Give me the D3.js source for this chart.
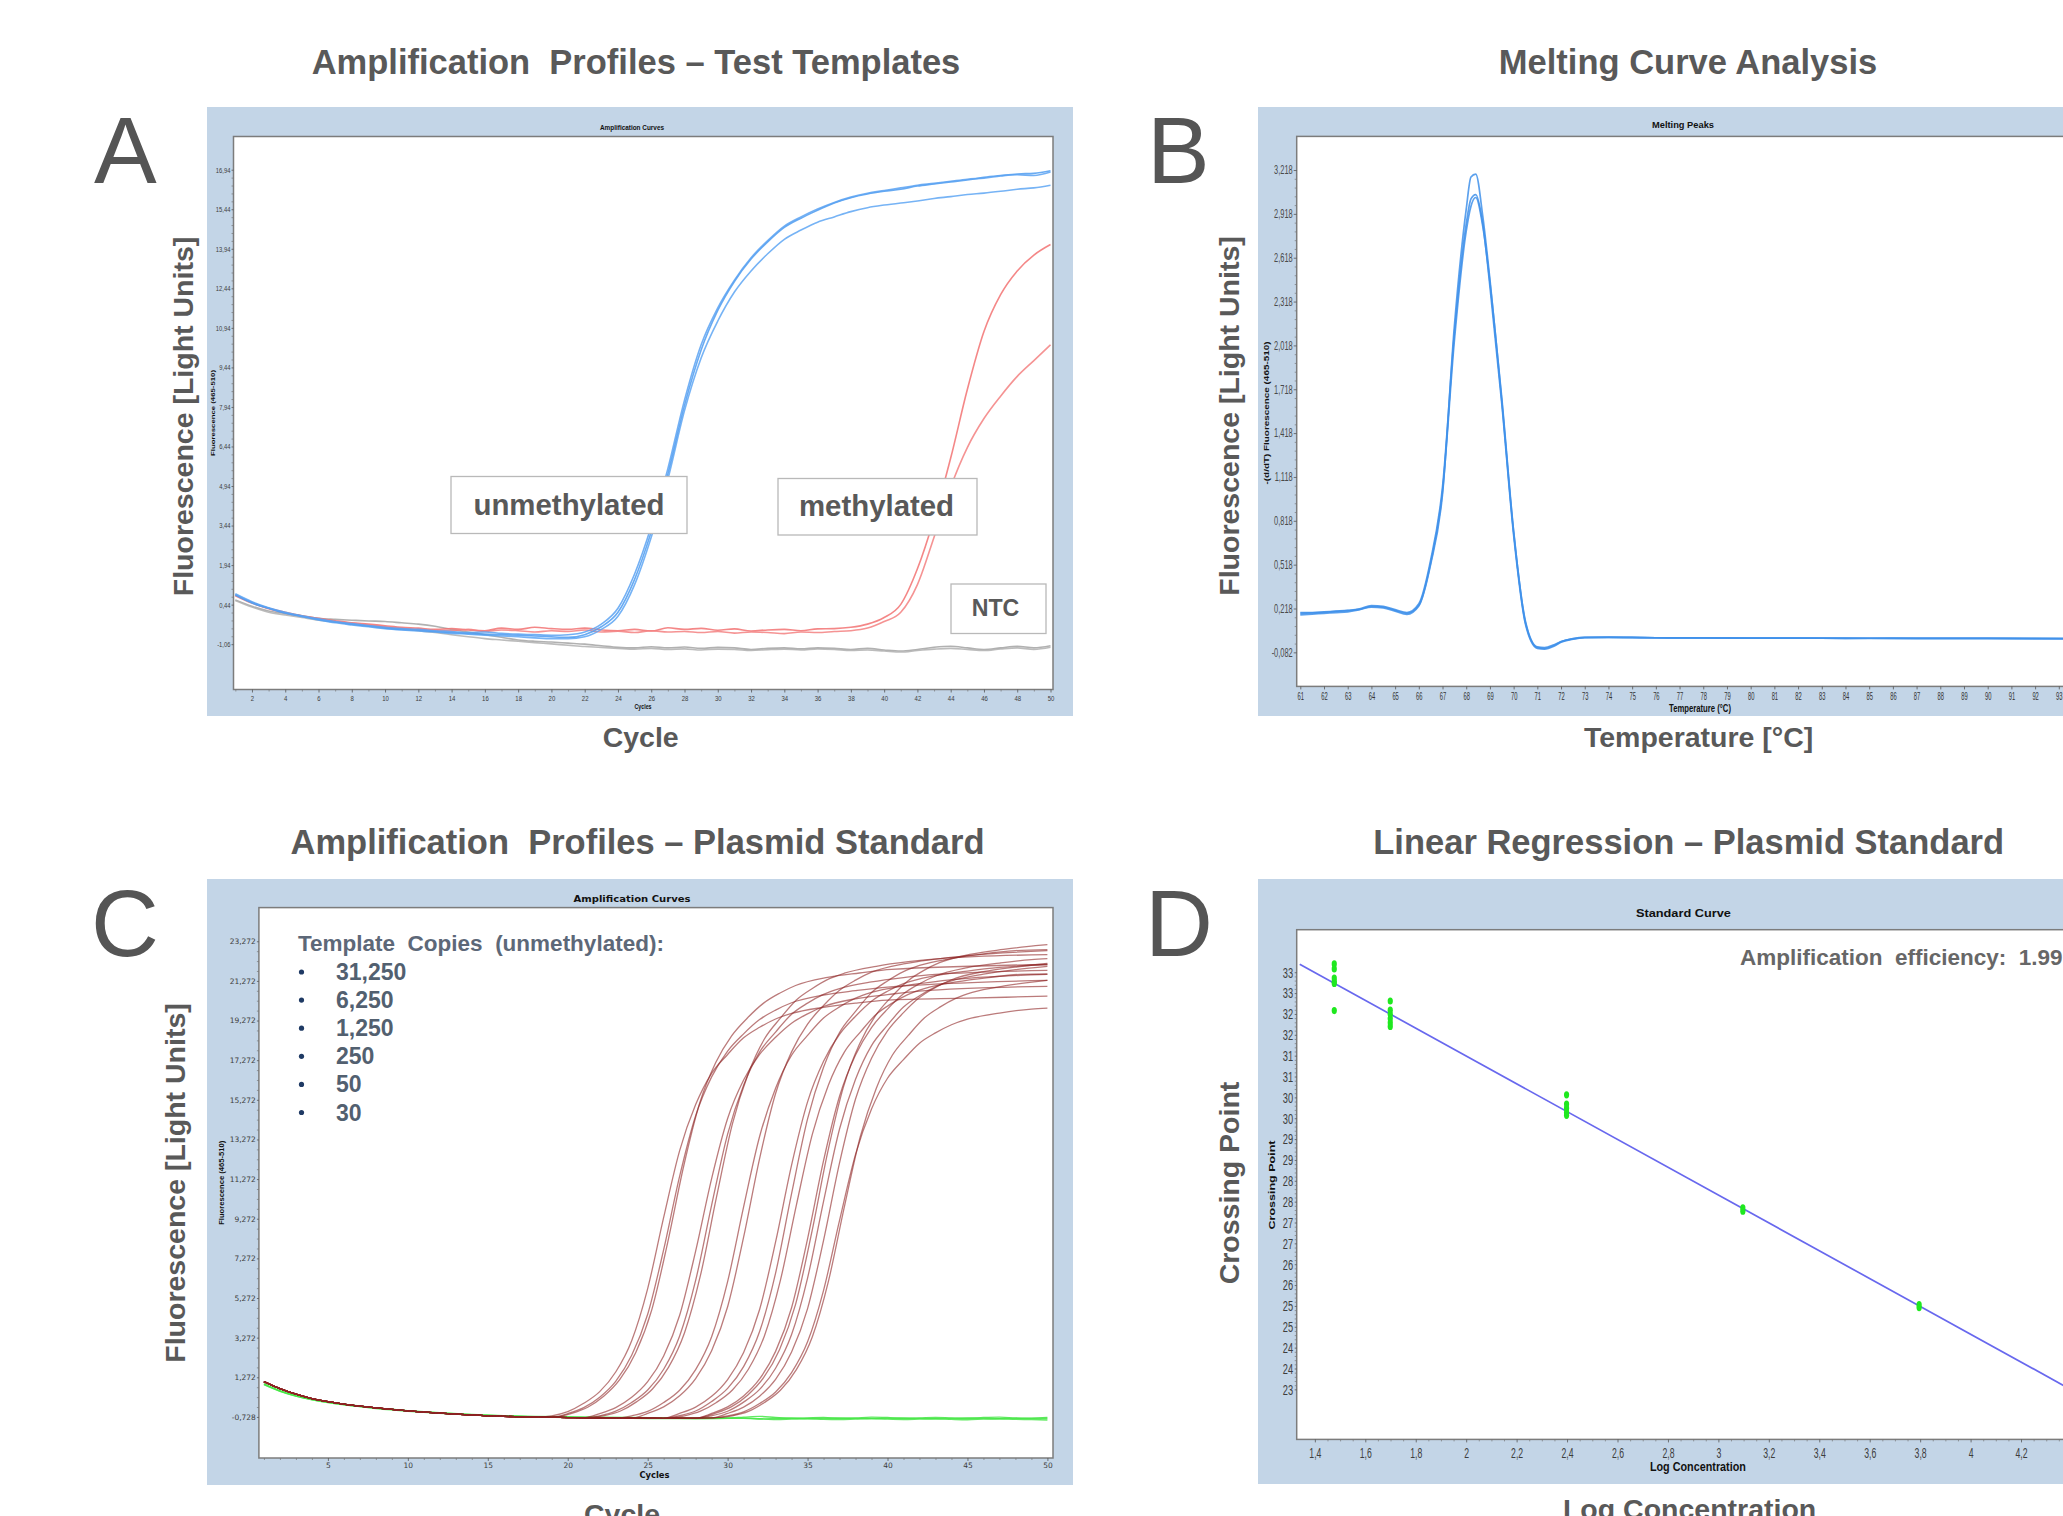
<!DOCTYPE html>
<html>
<head>
<meta charset="utf-8">
<title>qPCR panels</title>
<script src="https://cdn.jsdelivr.net/npm/d3@7/dist/d3.min.js"></script>
<style>
html,body{margin:0;padding:0;background:#ffffff;overflow:hidden;}
svg{display:block;}
</style>
</head>
<body>
<svg id="fig" width="2063" height="1516" xmlns="http://www.w3.org/2000/svg"></svg>
<script>
// ======================= DATA =======================
// ---- Panel A : amplification curves, test templates ----
const cyclesA = [1,2,3,4,5,6,7,8,9,10,11,12,13,14,15,16,17,18,19,20,21,22,23,24,25,26,27,28,29,30,31,32,33,34,35,36,37,38,39,40,41,42,43,44,45,46,47,48,49,50];
const aYTickLabels = ["16,94","15,44","13,94","12,44","10,94","9,44","7,94","6,44","4,94","3,44","1,94","0,44","-1,06"];
const aXTicks = [2,4,6,8,10,12,14,16,18,20,22,24,26,28,30,32,34,36,38,40,42,44,46,48,50];
const unmethA1 = [0.85,0.55,0.32,0.15,0.02,-0.1,-0.2,-0.28,-0.35,-0.42,-0.47,-0.5,-0.55,-0.58,-0.62,-0.6,-0.65,-0.68,-0.7,-0.72,-0.7,-0.6,-0.3,0.3,1.6,3.4,5.6,8.2,10.3,11.7,12.75,13.6,14.25,14.8,15.15,15.45,15.7,15.9,16.05,16.15,16.25,16.35,16.42,16.5,16.58,16.62,16.7,16.75,16.72,16.85];
const unmethA2 = [0.8,0.5,0.3,0.12,0.0,-0.12,-0.22,-0.3,-0.38,-0.45,-0.5,-0.53,-0.58,-0.62,-0.65,-0.68,-0.7,-0.72,-0.75,-0.78,-0.8,-0.7,-0.4,0.15,1.4,3.2,5.4,8.0,10.1,11.6,12.7,13.55,14.2,14.75,15.1,15.4,15.68,15.88,16.02,16.12,16.2,16.32,16.4,16.48,16.55,16.65,16.72,16.78,16.8,16.9];
const unmethA3 = [0.82,0.52,0.3,0.12,-0.02,-0.14,-0.25,-0.33,-0.4,-0.47,-0.52,-0.56,-0.6,-0.65,-0.68,-0.72,-0.75,-0.78,-0.82,-0.85,-0.85,-0.78,-0.5,0.0,1.2,3.0,5.2,7.8,9.8,11.2,12.3,13.1,13.75,14.3,14.65,14.95,15.15,15.35,15.5,15.6,15.68,15.75,15.85,15.92,16.0,16.05,16.12,16.2,16.25,16.35];
const methA1 = [0.78,0.5,0.3,0.15,0.02,-0.08,-0.17,-0.25,-0.3,-0.36,-0.42,-0.45,-0.5,-0.47,-0.52,-0.55,-0.45,-0.5,-0.42,-0.47,-0.5,-0.45,-0.52,-0.55,-0.5,-0.56,-0.44,-0.5,-0.46,-0.53,-0.48,-0.56,-0.52,-0.5,-0.55,-0.48,-0.47,-0.42,-0.3,-0.05,0.45,1.8,3.7,6.0,8.6,10.8,12.2,13.1,13.7,14.1];
const methA2 = [0.8,0.52,0.28,0.12,0.0,-0.1,-0.2,-0.27,-0.33,-0.4,-0.45,-0.5,-0.52,-0.55,-0.5,-0.58,-0.52,-0.55,-0.6,-0.55,-0.58,-0.52,-0.6,-0.57,-0.62,-0.55,-0.6,-0.58,-0.62,-0.58,-0.64,-0.6,-0.62,-0.66,-0.6,-0.62,-0.58,-0.55,-0.45,-0.2,0.15,1.2,3.0,4.9,6.4,7.5,8.35,9.1,9.7,10.3];
const ntcA1 = [0.62,0.38,0.2,0.1,0.02,-0.08,-0.12,-0.15,-0.18,-0.2,-0.25,-0.3,-0.38,-0.5,-0.6,-0.7,-0.8,-0.9,-0.95,-0.98,-1.02,-1.06,-1.12,-1.18,-1.2,-1.16,-1.2,-1.17,-1.22,-1.18,-1.2,-1.26,-1.22,-1.2,-1.24,-1.2,-1.22,-1.26,-1.22,-1.28,-1.32,-1.26,-1.18,-1.14,-1.2,-1.26,-1.2,-1.14,-1.2,-1.12];
const ntcA2 = [0.6,0.35,0.15,0.05,-0.05,-0.15,-0.22,-0.3,-0.36,-0.42,-0.48,-0.55,-0.62,-0.7,-0.78,-0.85,-0.9,-0.95,-1.0,-1.05,-1.1,-1.15,-1.18,-1.22,-1.25,-1.22,-1.26,-1.24,-1.28,-1.25,-1.26,-1.3,-1.27,-1.25,-1.28,-1.24,-1.26,-1.3,-1.28,-1.32,-1.36,-1.3,-1.25,-1.22,-1.26,-1.3,-1.24,-1.2,-1.26,-1.18];

// ---- Panel B : melting peaks ----
const bYTickLabels = ["3,218","2,918","2,618","2,318","2,018","1,718","1,418","1,118","0,818","0,518","0,218","-0,082"];
const bXTicks = [61,62,63,64,65,66,67,68,69,70,71,72,73,74,75,76,77,78,79,80,81,82,83,84,85,86,87,88,89,90,91,92,93];
const tempsB = [61,61.5,62,62.5,63,63.5,64,64.5,65,65.5,66,66.5,67,67.5,68,68.2,68.4,68.7,69,69.5,70,70.5,71,71.3,71.7,72,72.5,73,74,75,76,78,80,82,84,86,88,90,92,94];
const meltB1 = [0.175,0.18,0.185,0.19,0.195,0.21,0.228,0.222,0.2,0.178,0.235,0.52,1.0,2.15,2.95,3.17,3.19,2.9,2.47,1.66,0.75,0.12,-0.05,-0.055,-0.035,-0.01,0.01,0.02,0.022,0.02,0.018,0.017,0.015,0.016,0.014,0.015,0.013,0.014,0.012,0.012];
const meltB2 = [0.19,0.19,0.195,0.2,0.205,0.215,0.238,0.232,0.21,0.19,0.25,0.55,1.05,2.1,2.85,3.02,3.05,2.85,2.42,1.62,0.72,0.11,-0.055,-0.06,-0.04,-0.012,0.008,0.018,0.02,0.019,0.017,0.016,0.015,0.015,0.014,0.014,0.013,0.013,0.012,0.012];
const meltB3 = [0.185,0.188,0.192,0.198,0.203,0.212,0.232,0.228,0.205,0.185,0.24,0.53,1.02,2.05,2.8,2.97,3.03,2.83,2.45,1.64,0.74,0.13,-0.045,-0.05,-0.03,-0.008,0.012,0.02,0.021,0.02,0.018,0.017,0.016,0.015,0.015,0.014,0.014,0.013,0.013,0.012];

// ---- Panel C : amplification curves, plasmid standard ----
const cYTickLabels = ["23,272","21,272","19,272","17,272","15,272","13,272","11,272","9,272","7,272","5,272","3,272","1,272","-0,728"];
const cXTicks = [5,10,15,20,25,30,35,40,45,50];
const copiesLegend = ["31,250","6,250","1,250","250","50","30"];
const baseCyclesC = [1,2,3,4,5,6,7,8,9,10,11,12,13,14,15,16,17,18,19,20,21,22,23,24,25,26,27,28,29,30];
const baseValuesC = [1.05,0.7,0.42,0.2,0.04,-0.08,-0.18,-0.27,-0.35,-0.42,-0.48,-0.54,-0.59,-0.63,-0.67,-0.7,-0.72,-0.74,-0.75,-0.76,-0.77,-0.78,-0.78,-0.79,-0.79,-0.8,-0.79,-0.79,-0.78,-0.78];
const g1a = [[19,-0.67],[20,-0.46],[21,-0.04],[22,0.55],[23,1.54],[24,3.12],[25,5.75],[26,9.34],[27,12.71],[28,15.03],[29,16.61],[30,17.56],[31,18.40],[32,18.93],[33,19.35],[34,19.63],[36,19.94],[38,20.15],[40,20.30],[45,20.4],[50,20.5]];
const g1b = [[20,-0.56],[21,-0.26],[22,0.27],[23,1.07],[24,2.38],[25,4.45],[26,7.71],[27,11.42],[28,14.47],[29,16.43],[30,17.73],[31,18.60],[32,19.32],[33,19.80],[34,20.17],[36,20.56],[38,20.78],[40,20.96],[50,21.3]];
const g1c = [[20.25,-0.55],[21.25,-0.24],[22.25,0.31],[23.25,1.15],[24.25,2.51],[25.25,4.66],[26.25,8.07],[27.25,11.92],[28.25,15.10],[29.25,17.14],[30.25,18.50],[31.25,19.41],[32.25,20.15],[33.25,20.65],[34.25,21.04],[36.25,21.45],[38.25,21.67],[40.25,21.85],[50,22.1]];
const g2a = [[22,-0.56],[23,-0.26],[24,0.26],[25,1.05],[26,2.35],[27,4.40],[28,7.64],[29,11.30],[30,14.33],[31,16.27],[32,17.56],[33,18.43],[34,19.14],[35,19.61],[36,19.98],[38,20.37],[40,20.58],[42,20.76],[50,21.0]];
const g2b = [[22,-0.67],[23,-0.44],[24,0.00],[25,0.63],[26,1.68],[27,3.36],[28,6.16],[29,9.96],[30,13.54],[31,16.01],[32,17.68],[33,18.69],[34,19.59],[35,20.15],[36,20.59],[37,20.88],[39,21.22],[41,21.44],[43,21.60],[50,21.8]];
const g2c = [[22.3,-0.66],[23.3,-0.43],[24.3,0.03],[25.3,0.68],[26.3,1.77],[27.3,3.51],[28.3,6.41],[29.3,10.35],[30.3,14.06],[31.3,16.61],[32.3,18.34],[33.3,19.39],[34.3,20.31],[35.3,20.89],[36.3,21.36],[37.3,21.66],[39.3,22.01],[41.3,22.24],[43.3,22.40],[50,22.6]];
const g3a = [[24,-0.67],[25,-0.45],[26,0.00],[27,0.62],[28,1.66],[29,3.32],[30,6.10],[31,9.87],[32,13.42],[33,15.86],[34,17.52],[35,18.52],[36,19.40],[37,19.96],[38,20.40],[39,20.69],[41,21.02],[43,21.24],[45,21.40],[50,21.6]];
const g3b = [[25,-0.55],[26,-0.22],[27,0.34],[28,1.21],[29,2.61],[30,4.83],[31,8.34],[32,12.31],[33,15.59],[34,17.69],[35,19.09],[36,20.03],[37,20.80],[38,21.31],[39,21.71],[41,22.13],[43,22.37],[45,22.55],[50,22.8]];
const g4a = [[27,-0.55],[28,-0.23],[29,0.31],[30,1.16],[31,2.52],[32,4.69],[33,8.10],[34,11.98],[35,15.17],[36,17.22],[37,18.58],[38,19.49],[39,20.25],[40,20.75],[41,21.13],[43,21.54],[45,21.77],[47,21.95],[50,22.1]];
const g4b = [[27,-0.66],[28,-0.43],[29,0.05],[30,0.71],[31,1.81],[32,3.58],[33,6.53],[34,10.54],[35,14.31],[36,16.91],[37,18.67],[38,19.73],[39,20.68],[40,21.27],[41,21.74],[42,22.05],[44,22.40],[46,22.64],[48,22.80],[50,22.85]];
const g4c = [[27.3,-0.67],[28.3,-0.44],[29.3,0.00],[30.3,0.63],[31.3,1.68],[32.3,3.36],[33.3,6.16],[34.3,9.96],[35.3,13.54],[36.3,16.01],[37.3,17.68],[38.3,18.69],[39.3,19.59],[40.3,20.15],[41.3,20.59],[42.3,20.88],[44.3,21.22],[46.3,21.44],[48.3,21.60],[50,21.62]];
const g5a = [[29,-0.55],[30,-0.22],[31,0.33],[32,1.19],[33,2.58],[34,4.78],[35,8.26],[36,12.20],[37,15.45],[38,17.53],[39,18.92],[40,19.85],[41,20.62],[42,21.13],[43,21.52],[45,21.94],[47,22.17],[49,22.35],[50,22.4]];
const g5b = [[29.25,-0.54],[30.25,-0.21],[31.25,0.37],[32.25,1.25],[33.25,2.68],[34.25,4.95],[35.25,8.53],[36.25,12.59],[37.25,15.94],[38.25,18.09],[39.25,19.52],[40.25,20.47],[41.25,21.26],[42.25,21.79],[43.25,22.19],[45.25,22.62],[47.25,22.86],[49.25,23.05],[50,23.1]];
const g5c = [[29,-0.67],[30,-0.44],[31,0.02],[32,0.66],[33,1.73],[34,3.43],[35,6.28],[36,10.15],[37,13.80],[38,16.31],[39,18.01],[40,19.04],[41,19.95],[42,20.52],[43,20.97],[44,21.27],[46,21.61],[48,21.84],[50,22.00]];
const g6a = [[30,-0.55],[31,-0.23],[32,0.32],[33,1.17],[34,2.55],[35,4.74],[36,8.18],[37,12.09],[38,15.31],[39,17.37],[40,18.75],[41,19.67],[42,20.43],[43,20.94],[44,21.33],[46,21.74],[48,21.97],[50,22.15]];
const g6b = [[30,-0.68],[31,-0.47],[32,-0.05],[33,0.53],[34,1.51],[35,3.06],[36,5.66],[37,9.19],[38,12.52],[39,14.81],[40,16.36],[41,17.30],[42,18.13],[43,18.65],[44,19.06],[45,19.34],[47,19.65],[49,19.85],[50,19.9]];
const g6c = [[30.3,-0.67],[31.3,-0.45],[32.3,0.00],[33.3,0.62],[34.3,1.66],[35.3,3.32],[36.3,6.10],[37.3,9.87],[38.3,13.42],[39.3,15.86],[40.3,17.52],[41.3,18.52],[42.3,19.40],[43.3,19.96],[44.3,20.40],[45.3,20.69],[47.3,21.02],[49.3,21.24],[50,21.3]];
const plasmidCurves = [g1a,g1b,g1c,g2a,g2b,g2c,g3a,g3b,g4a,g4b,g4c,g5a,g5b,g5c,g6a,g6b,g6c];
const greenCyclesC = [1,2,3,4,5,6,8,10,12,14,16,18,20,22,24,26,28,30,31,32,33,34,35,36,37,38,39,40,41,42,43,44,45,46,47,48,49,50];
const ntcC1 = [0.95,0.6,0.35,0.17,0.03,-0.09,-0.27,-0.41,-0.52,-0.6,-0.66,-0.7,-0.72,-0.74,-0.76,-0.77,-0.78,-0.78,-0.74,-0.7,-0.76,-0.8,-0.78,-0.76,-0.8,-0.78,-0.74,-0.76,-0.8,-0.78,-0.75,-0.78,-0.8,-0.76,-0.74,-0.78,-0.8,-0.76];
const ntcC2 = [0.9,0.56,0.32,0.14,0.0,-0.12,-0.3,-0.44,-0.55,-0.63,-0.69,-0.73,-0.76,-0.78,-0.8,-0.81,-0.82,-0.8,-0.78,-0.82,-0.86,-0.84,-0.82,-0.85,-0.86,-0.83,-0.8,-0.84,-0.86,-0.84,-0.82,-0.85,-0.87,-0.84,-0.82,-0.85,-0.86,-0.88];
const ntcC3 = [0.92,0.58,0.33,0.15,0.01,-0.1,-0.28,-0.42,-0.53,-0.62,-0.68,-0.72,-0.75,-0.77,-0.79,-0.8,-0.8,-0.79,-0.8,-0.83,-0.8,-0.78,-0.81,-0.8,-0.78,-0.8,-0.82,-0.8,-0.78,-0.8,-0.82,-0.8,-0.78,-0.8,-0.82,-0.8,-0.79,-0.81];

// ---- Panel D : standard curve ----
const dLogConc = [1.477,1.477,1.477,1.477,1.477,1.477,1.699,1.699,1.699,1.699,1.699,1.699,2.398,2.398,2.398,2.398,2.398,3.097,3.097,3.796,3.796,4.495,4.495];
const dCrossing = [33.70,33.58,33.36,33.28,33.23,32.58,32.81,32.59,32.49,32.39,32.29,32.20,30.56,30.34,30.24,30.14,30.07,27.85,27.77,25.53,25.46,23.2,23.1];
const fitSlope = -3.335;
const fitIntercept = 38.162;
const fitRange = [1.34, 4.6];
const dXTicks = [1.4,1.6,1.8,2,2.2,2.4,2.6,2.8,3,3.2,3.4,3.6,3.8,4,4.2,4.4];
const dYTicks = [33.5,33,32.5,32,31.5,31,30.5,30,29.5,29,28.5,28,27.5,27,26.5,26,25.5,25,24.5,24,23.5];
const dYLabels = ["33","33","32","32","31","31","30","30","29","29","28","28","27","27","26","26","25","25","24","24","23"];
const efficiencyText = "Amplification  efficiency:  1.99";

// ======================= DRAWING =======================
const svg = d3.select("#fig");
const SANS = "'Liberation Sans', Arial, Helvetica, sans-serif";
const DEJA = "'DejaVu Sans', Verdana, sans-serif";
const TXT = "#595959";
const PANEL_BG = "#c3d5e7";
const defs = svg.append("defs");
const num = s => +s.replace(",", ".");

function panel(box, P, id) {
  svg.append("rect").attr("x", box[0]).attr("y", box[1]).attr("width", box[2]).attr("height", box[3]).attr("fill", PANEL_BG);
  svg.append("rect").attr("x", P.x0).attr("y", P.y0).attr("width", P.x1 - P.x0).attr("height", P.y1 - P.y0).attr("fill", "#ffffff");
  defs.append("clipPath").attr("id", id).append("rect")
    .attr("x", P.x0).attr("y", P.y0).attr("width", P.x1 - P.x0).attr("height", P.y1 - P.y0);
  return svg.append("g").attr("clip-path", `url(#${id})`);
}
function frame(P) {
  svg.append("rect").attr("x", P.x0).attr("y", P.y0).attr("width", P.x1 - P.x0).attr("height", P.y1 - P.y0)
    .attr("fill", "none").attr("stroke", "#7c7c7c").attr("stroke-width", 1.5);
}
function yAxis(scale, P, vals, labels, o) {
  const ax = d3.axisLeft(scale).tickValues(vals).tickFormat((d, i) => labels[i]).tickSize(o.ts).tickPadding(o.pad).tickSizeOuter(0);
  const g = svg.append("g").attr("transform", `translate(${P.x0},0)`).call(ax);
  g.select(".domain").remove();
  g.selectAll("line").attr("stroke", "#555").attr("stroke-width", 0.8);
  g.selectAll("text").attr("font-family", o.font).attr("font-size", o.fs).attr("fill", o.fill || "#3d3d3d")
    .attr("transform", `scale(${o.sx},1)`).attr("x", -(o.ts + o.pad) / o.sx);
  if (o.minor) {
    const mg = svg.append("g").attr("transform", `translate(${P.x0},0)`)
      .call(d3.axisLeft(scale).tickValues(o.minor).tickFormat("").tickSize(2).tickSizeOuter(0));
    mg.select(".domain").remove();
    mg.selectAll("line").attr("stroke", "#777").attr("stroke-width", 0.7);
  }
}
function xAxis(scale, P, vals, labels, o) {
  const ax = d3.axisBottom(scale).tickValues(vals).tickFormat((d, i) => labels[i]).tickSize(o.ts).tickPadding(o.pad).tickSizeOuter(0);
  const g = svg.append("g").attr("transform", `translate(0,${P.y1})`).call(ax);
  g.select(".domain").remove();
  g.selectAll("line").attr("stroke", "#555").attr("stroke-width", 0.8);
  g.selectAll("text").attr("font-family", o.font).attr("font-size", o.fs).attr("fill", o.fill || "#3d3d3d")
    .attr("transform", `scale(${o.sx},1)`);
  if (o.minor) {
    const mg = svg.append("g").attr("transform", `translate(0,${P.y1})`)
      .call(d3.axisBottom(scale).tickValues(o.minor).tickFormat("").tickSize(2).tickSizeOuter(0));
    mg.select(".domain").remove();
    mg.selectAll("line").attr("stroke", "#777").attr("stroke-width", 0.7);
  }
}
function text(x, y, str, fs, o = {}) {
  const t = svg.append("text").attr("x", x).attr("y", y).text(str)
    .attr("font-family", o.font || SANS).attr("font-size", fs)
    .attr("font-weight", o.weight || "bold").attr("fill", o.fill || TXT)
    .attr("text-anchor", o.anchor || "middle").style("white-space", "pre");
  if (o.len) t.attr("textLength", o.len).attr("lengthAdjust", "spacingAndGlyphs");
  return t;
}
function vtext(cx, cy, str, fs, o = {}) {
  const t = svg.append("text").attr("transform", `translate(${cx},${cy}) rotate(-90)`)
    .attr("dy", "0.35em").text(str)
    .attr("font-family", o.font || SANS).attr("font-size", fs)
    .attr("font-weight", o.weight || "bold").attr("fill", o.fill || TXT)
    .attr("text-anchor", "middle").style("white-space", "pre");
  if (o.len) t.attr("textLength", o.len).attr("lengthAdjust", "spacingAndGlyphs");
  return t;
}
function minorBetween(major, parts) {
  const out = [];
  const s = [...major].sort((a, b) => a - b);
  for (let i = 0; i < s.length - 1; i++)
    for (let k = 1; k < parts; k++) out.push(s[i] + (s[i + 1] - s[i]) * k / parts);
  return out;
}

// ---------- Titles & panel letters ----------
text(636, 73.5, "Amplification  Profiles – Test Templates", 34.5);
text(1688, 73.5, "Melting Curve Analysis", 34.5);
text(637.5, 854, "Amplification  Profiles – Plasmid Standard", 34.5);
text(1688.7, 854, "Linear Regression – Plasmid Standard", 34.5);
[["A", 94, 182.5], ["B", 1147, 182.5], ["C", 91, 955.5], ["D", 1145, 956]].forEach(([l, x, y]) =>
  text(x, y, l, 94, { weight: "normal", anchor: "start", fill: "#555555" }));

// ---------- Panel A ----------
const PA = { x0: 233.5, x1: 1053, y0: 136.5, y1: 689.5 };
const gA = panel([207, 107, 866, 609], PA, "clipA");
const xA = d3.scaleLinear().domain([0.89, 50.15]).range([PA.x0, PA.x1]);
const yA = d3.scaleLinear().domain([-2.78, 18.2]).range([PA.y1, PA.y0]);
const lineA = d3.line().x((d, i) => xA(cyclesA[i])).y(d => yA(d)).curve(d3.curveMonotoneX);
[[ntcA1, "#a3a3a3"], [ntcA2, "#b0b0b0"], [methA1, "#f27272"], [methA2, "#f38080"],
 [unmethA3, "#5ea6f3"], [unmethA2, "#4f9cf0"], [unmethA1, "#5aa2f2"]].forEach(([vals, col]) =>
  gA.append("path").attr("d", lineA(vals)).attr("fill", "none").attr("stroke", col)
    .attr("stroke-width", 1.6).attr("stroke-opacity", 0.85));
frame(PA);
const aYVals = aYTickLabels.map(num);
yAxis(yA, PA, aYVals, aYTickLabels, { ts: 2, pad: 1, fs: 7.5, sx: 0.78, font: SANS, minor: minorBetween(aYVals, 5) });
xAxis(xA, PA, aXTicks, aXTicks.map(String), { ts: 3, pad: 3, fs: 7.5, sx: 0.8, font: SANS, minor: cyclesA.filter(c => c % 2 === 1) });
text(632, 129.5, "Amplification Curves", 6.5, { fill: "#111", len: 64 });
vtext(213.3, 413, "Fluorescence (465-510)", 6, { fill: "#111", len: 86 });
text(643, 709, "Cycles", 6.5, { fill: "#111", len: 17 });
// label boxes
[[451, 476.5, 236, 57, "unmethylated", 569, 514.5, 29.4],
 [778, 478.5, 199, 56.5, "methylated", 876.5, 516, 29.4],
 [951, 584, 95, 49.5, "NTC", 995.5, 616, 23.2]].forEach(([x, y, w, h, s, tx, ty, fs]) => {
  svg.append("rect").attr("x", x).attr("y", y).attr("width", w).attr("height", h)
    .attr("fill", "#ffffff").attr("stroke", "#b9b9b9").attr("stroke-width", 1.3);
  text(tx, ty, s, fs);
});
vtext(183, 416.5, "Fluorescence [Light Units]", 28.5);
text(640.7, 747, "Cycle", 28.5);

// ---------- Panel B ----------
const PB = { x0: 1296.7, x1: 2069, y0: 136.4, y1: 686.4 };
const gB = panel([1258, 107, 850, 609], PB, "clipB");
const xB = d3.scaleLinear().domain([60.848, 93.43]).range([PB.x0, PB.x1]);
const yB = d3.scaleLinear().domain([-0.315, 3.448]).range([PB.y1, PB.y0]);
const lineB = d3.line().x((d, i) => xB(tempsB[i])).y(d => yB(d)).curve(d3.curveMonotoneX);
[meltB2, meltB3, meltB1].forEach(vals =>
  gB.append("path").attr("d", lineB(vals)).attr("fill", "none").attr("stroke", "#3f91ea")
    .attr("stroke-width", 1.7).attr("stroke-opacity", 0.85));
frame(PB);
const bYVals = bYTickLabels.map(num);
yAxis(yB, PB, bYVals, bYTickLabels, { ts: 3, pad: 1, fs: 12, sx: 0.62, font: SANS, fill: "#4a4a4a", minor: minorBetween(bYVals, 5) });
xAxis(xB, PB, bXTicks, bXTicks.map(String), { ts: 3, pad: 2, fs: 11.6, sx: 0.5, font: SANS, fill: "#333" });
text(1683, 127.5, "Melting Peaks", 9.5, { fill: "#111", len: 62 });
vtext(1266.5, 413, "-(d/dT) Fluorescence (465-510)", 6.5, { fill: "#111", len: 143 });
text(1700, 711.5, "Temperature (°C)", 11.5, { fill: "#111", len: 62 });
vtext(1229, 416, "Fluorescence [Light Units]", 28.5);
text(1698.6, 747, "Temperature [°C]", 28.5);

// ---------- Panel C ----------
const PC = { x0: 258.9, x1: 1053, y0: 907.6, y1: 1458 };
const gC = panel([207, 879, 866, 606], PC, "clipC");
const xC = d3.scaleLinear().domain([0.685, 50.35]).range([PC.x0, PC.x1]);
const yC = d3.scaleLinear().domain([-2.8, 24.97]).range([PC.y1, PC.y0]);
const lineC = d3.line().x(d => xC(d[0])).y(d => yC(d[1])).curve(d3.curveMonotoneX);
const baseC = baseCyclesC.map((c, i) => [c, baseValuesC[i]]);
[ntcC1, ntcC2, ntcC3].forEach(vals =>
  gC.append("path").attr("d", lineC(greenCyclesC.map((c, i) => [c, vals[i]]))).attr("fill", "none")
    .attr("stroke", "#46e646").attr("stroke-width", 1.4).attr("stroke-opacity", 0.85));
plasmidCurves.forEach(pts => {
  const full = baseC.filter(p => p[0] < pts[0][0] - 0.5).concat(pts);
  gC.append("path").attr("d", lineC(full)).attr("fill", "none").attr("stroke", "#8e2323")
    .attr("stroke-width", 1.3).attr("stroke-opacity", 0.6);
});
frame(PC);
const cYVals = cYTickLabels.map(num);
yAxis(yC, PC, cYVals, cYTickLabels, { ts: 2, pad: 1, fs: 7.5, sx: 1, font: DEJA, minor: minorBetween(cYVals, 4) });
xAxis(xC, PC, cXTicks, cXTicks.map(String), { ts: 3, pad: 1.5, fs: 7.5, sx: 1, font: DEJA, minor: cyclesA.filter(c => c % 5 !== 0) });
text(632, 901.5, "Amplification Curves", 9, { fill: "#111", font: DEJA, len: 117 });
vtext(221.3, 1182.8, "Fluorescence (465-510)", 6.5, { fill: "#111", len: 84 });
text(654.5, 1477.5, "Cycles", 8, { fill: "#111", font: DEJA, len: 30 });
// legend
text(298, 951, "Template  Copies  (unmethylated):", 22.5, { anchor: "start", fill: "#5d6878" });
copiesLegend.forEach((c, i) => {
  const yb = 980 + i * 28.1;
  svg.append("circle").attr("cx", 301.5).attr("cy", yb - 8).attr("r", 2.6).attr("fill", "#1f3a64");
  text(336, yb, c, 23, { anchor: "start", fill: "#526070" });
});
vtext(175, 1183, "Fluorescence [Light Units]", 28.5);
text(622, 1524, "Cycle", 28.5);

// ---------- Panel D ----------
const PD = { x0: 1296.7, x1: 2075, y0: 929.7, y1: 1439.4 };
const gD = panel([1258, 879, 850, 605], PD, "clipD");
const xD = d3.scaleLinear().domain([1.328, 4.414]).range([PD.x0, PD.x1]);
const yD = d3.scaleLinear().domain([22.3, 34.52]).range([PD.y1, PD.y0]);
gD.append("path")
  .attr("d", d3.line().x(d => xD(d)).y(d => yD(fitIntercept + fitSlope * d))(fitRange))
  .attr("fill", "none").attr("stroke", "#6868ee").attr("stroke-width", 1.7);
gD.selectAll("ellipse.pt").data(dLogConc).join("ellipse")
  .attr("cx", d => xD(d)).attr("cy", (d, i) => yD(dCrossing[i]))
  .attr("rx", 2.6).attr("ry", 3.6).attr("fill", "#1fe81f");
frame(PD);
yAxis(yD, PD, dYTicks, dYLabels, { ts: 2, pad: 1.5, fs: 15, sx: 0.62, font: SANS, minor: minorBetween(dYTicks, 5) });
xAxis(xD, PD, dXTicks, dXTicks.map(d => String(d).replace(".", ",")), { ts: 3, pad: 5, fs: 14.5, sx: 0.6, font: SANS, minor: minorBetween(dXTicks, 4) });
text(1683.4, 916.6, "Standard Curve", 11.5, { fill: "#111", len: 95 });
vtext(1271.8, 1185, "Crossing Point", 9.5, { fill: "#111", len: 89 });
text(1697.9, 1470.7, "Log Concentration", 13.5, { fill: "#111", len: 96 });
text(1740, 965, efficiencyText, 22.5, { anchor: "start", fill: "#676767" });
vtext(1229, 1183, "Crossing Point", 28.5);
text(1689.6, 1519, "Log Concentration", 28.5);
</script>
</body>
</html>
